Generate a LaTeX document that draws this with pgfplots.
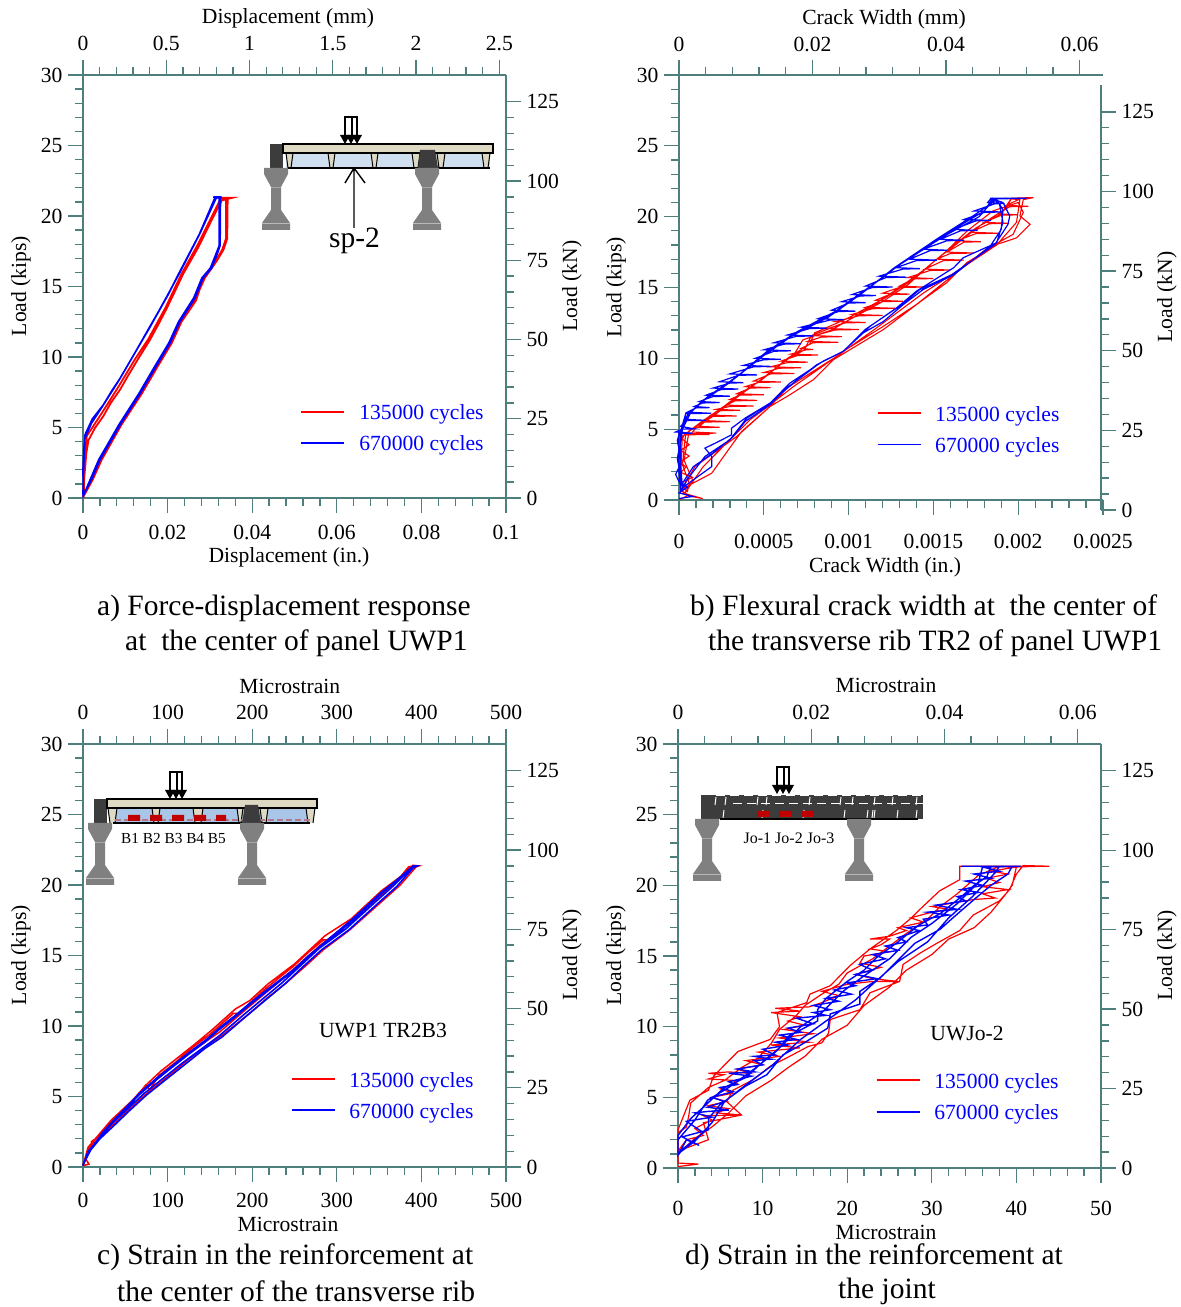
\documentclass[border=0pt]{standalone}
\usepackage{fontspec}
\usepackage{pgfplots}
\pgfplotsset{compat=1.18}
\setmainfont{Liberation Serif}
\definecolor{tk}{HTML}{4F7F7D}
\definecolor{sg}{HTML}{808080}
\definecolor{sd}{HTML}{3C3C3C}
\definecolor{bg}{HTML}{DDD9C3}
\definecolor{pa}{HTML}{D0DFF0}
\definecolor{pc}{HTML}{A9C6E8}
\definecolor{rb}{HTML}{C00000}
\newcommand{\fs}{\fontsize{21.6}{24}\selectfont}
\newcommand{\fc}{\fontsize{29.5}{33}\selectfont}
\pgfplotsset{
 base/.style={scale only axis, clip=false, tick align=outside,
  major tick length=15pt, minor tick length=8pt,
  tick style={color=tk,line width=1.3pt},
  axis line style={color=tk,line width=1.6pt},
  tick label style={font=\fs,/pgf/number format/assume math mode=true,text=black},
  label style={font=\fs},
  minor x tick num=4, minor y tick num=4, scaled ticks=false},
 mainax/.style={base, axis x line*=bottom, axis y line*=left,
  ymin=0,ymax=30,ytick={0,5,...,30},
  yticklabel style={xshift=-2pt},
  legend cell align=left,
  legend image code/.code={\draw[##1,line width=1.3pt] (0pt,4pt) -- (43pt,4pt); \path (57pt,4pt);},
  legend style={draw=none,fill=none,font=\fs,text=blue,inner sep=0pt,outer sep=0pt,anchor=north west,
    row sep=11pt,nodes={inner sep=0pt,text height=14pt,text depth=6pt}}},
 topax/.style={base, axis x line*=top, hide y axis, ymin=0,ymax=30},
 rightax/.style={base, axis y line*=right, hide x axis, xmin=0,xmax=1,ymin=0,ymax=133.45,
   ytick={0,25,...,125},yticklabel style={xshift=2pt}},
 red/.style={color=red,line width=#1},
 blu/.style={color=blue,line width=#1}
}
\newcommand{\supp}[2]{%
 \fill[sg] (#1-12,#2) -- (#1+12,#2) -- (#1+12,#2+6) -- (#1+5,#2+19) -- (#1+5,#2+42) -- (#1+14,#2+55) -- (#1+14,#2+62) -- (#1-14,#2+62) -- (#1-14,#2+55) -- (#1-5,#2+42) -- (#1-5,#2+19) -- (#1-12,#2+6) -- cycle;
 \draw[sg!55!white,line width=.6pt] (#1-14,#2+55) -- (#1+14,#2+55);
 \draw[sg!70!white,line width=.5pt] (#1-5,#2+19) -- (#1+5,#2+19);}
\newcommand{\loadarrow}[2]{%
 \draw[black,line width=2pt,fill=white] (#1-6,#2+18) -- (#1-6,#2) -- (#1+6,#2) -- (#1+6,#2+18);
 \draw[black,line width=1.2pt] (#1+1,#2) -- (#1+1,#2+18);
 \fill[black] (#1-11,#2+18) -- (#1-1,#2+18) -- (#1-6,#2+27) -- cycle;
 \fill[black] (#1-5,#2+18) -- (#1+5,#2+18) -- (#1,#2+27) -- cycle;
 \fill[black] (#1+1,#2+18) -- (#1+11,#2+18) -- (#1+6,#2+27) -- cycle;}
\newcommand{\rib}[3]{\fill[bg] (#1,#3) -- (#2,#3) -- (#2-2,#3+15) -- (#1+2,#3+15) -- cycle; \draw[black,line width=1pt] (#1,#3) -- (#1+2,#3+15) (#2,#3) -- (#2-2,#3+15);}
\begin{document}
\begin{tikzpicture}
\path[use as bounding box] (0,0) rectangle (1181pt,1307pt);
%%%%%%%%%%%%% a
\begin{axis}[mainax,at={(83pt,809pt)},width=423pt,height=423pt,xmin=0,xmax=0.1,
 xtick={0,0.02,0.04,0.06,0.08,0.1},xticklabels={0,0.02,0.04,0.06,0.08,0.1},
 xticklabel style={yshift=-9pt},
 xlabel={Displacement (in.)},xlabel style={at={(axis description cs:.487,-.1395)},anchor=center},
 ylabel={Load (kips)},ylabel style={at={(axis description cs:-.1465,.501)},anchor=center},
 legend style={at={(axis description cs:.515,.2177)}}]
\addplot[red=1.8pt] coordinates {(0,0.1)(.0004,1.8)(.0008,3.2)(.0013,4.1)(.0028,4.95)(.0048,5.8)(.0066,6.75)(.0088,7.7)(.0107,8.7)(.0127,9.7)(.0158,11.2)(.0178,12.3)(.0198,13.45)(.0218,14.7)(.0237,15.9)(.0255,16.85)(.0273,17.8)(.0304,19.7)(.0328,21.1)(.0354,21.3)(.0318,21.3)(.0342,21.3)(.0341,18.4)(.0332,17.6)(.0316,16.8)(.0288,15.6)(.0276,14.8)(.0267,14)(.0233,12.5)(.021,11)(.0178,9.4)(.0139,7.4)(.0091,5.2)(.0044,2.7)(.0023,1.3)(.0002,.15)(.0003,2)(.0006,3.5)(.0009,4.4)(.0044,6)(.0084,7.9)(.0122,9.8)(.0155,11.3)(.0195,13.5)(.0233,15.9)(.027,17.9)(.03,19.7)(.0325,21.2)(.0345,21.3)(.0338,21.3)(.0338,18.4)(.0329,17.6)(.0313,16.8)(.0285,15.6)(.0264,14)(.023,12.5)(.0207,11)(.0175,9.4)(.0136,7.4)(.0088,5.2)(.0041,2.7)(.002,1.3)(0,.1)};
\addlegendentry{135000 cycles}
\addplot[blu=1.7pt] coordinates {(0,0.2)(.0001,1.8)(.0003,3.2)(.0005,4.5)(.0022,5.6)(.0048,6.6)(.0068,7.6)(.0088,8.5)(.0119,10.1)(.0158,12.15)(.018,13.3)(.0202,14.5)(.0229,16)(.0253,17.4)(.0277,18.8)(.0316,21.35)(.0328,21.35)(.0308,21.35)(.0325,21.3)(.0324,17.9)(.0316,17.2)(.0304,16.3)(.0284,15.6)(.0265,14.2)(.0229,12.5)(.0206,11)(.0174,9.4)(.0135,7.4)(.0088,5.2)(.004,2.7)(.002,1.3)(.0001,.2)(0,2)(.0002,3.4)(.0004,4.2)(.002,5.3)(.0045,6.45)(.0085,8.35)(.0117,10)(.0156,12)(.02,14.35)(.0227,15.95)(.0275,18.7)(.0312,21.3)(.0322,21.3)(.0322,17.9)(.0313,17.2)(.0301,16.3)(.0281,15.6)(.0262,14.2)(.0226,12.5)(.0203,11)(.0171,9.4)(.0132,7.4)(.0085,5.2)(.0037,2.7)(.0017,1.3)(0,.1)};
\addlegendentry{670000 cycles}
\end{axis}
\begin{axis}[topax,at={(83pt,809pt)},width=423pt,height=423pt,xmin=0,xmax=2.54,
 xtick={0,0.5,1,1.5,2,2.5},xticklabels={0,0.5,1,1.5,2,2.5},xticklabel style={yshift=6pt},
 xlabel={Displacement (mm)},xlabel style={at={(axis description cs:.4846,1.135)},anchor=center}]
\end{axis}
\begin{axis}[rightax,at={(83pt,809pt)},width=423pt,height=423pt,
 ylabel={Load (kN)},ylabel style={at={(axis description cs:1.156,.501)},anchor=center}]
\end{axis}
%%%%%%%%%%%%% b
\begin{axis}[mainax,at={(679pt,807pt)},width=424pt,height=425pt,xmin=0,xmax=0.0025,
 xtick={0,0.0005,0.001,0.0015,0.002,0.0025},xticklabels={0,0.0005,0.001,0.0015,0.002,0.0025},
 xticklabel style={yshift=-16pt},
 xlabel={Crack Width (in.)},xlabel style={at={(axis description cs:.486,-.1577)},anchor=center},
 ylabel={Load (kips)},ylabel style={at={(axis description cs:-.148,.501)},anchor=center},
 legend style={at={(axis description cs:.4669,.2188)},row sep=11.5pt}]
\addplot[red=1.1pt] coordinates {
(0,.02)(.5e-4,.3)(1.4e-4,.1)(.2e-4,.5)(.6e-4,.3)(.1e-4,.7)(.5e-4,.95)(.1e-4,1.2)(.8e-4,1.6)(.1e-4,1.95)(.4e-4,2.3)(.1e-4,2.7)(.6e-4,3.1)(.1e-4,3.5)(.6e-4,3.9)(.2e-4,4.3)
(.3e-4,4.6)(1.8e-4,4.62)(.6e-4,4.68)(2.2e-4,4.72)(.8e-4,4.8)(1e-4,5.1)(2.4e-4,5.13)(1.2e-4,5.2)(1.5e-4,5.5)(3e-4,5.53)(1.6e-4,5.6)(2e-4,5.9)(3.4e-4,5.93)(1.9e-4,6)(2.4e-4,6.3)(3.6e-4,6.33)(2.2e-4,6.4)(3e-4,6.6)(4.4e-4,6.63)(2.8e-4,6.7)(3.3e-4,7)(4.6e-4,7.03)(3e-4,7.1)(3.6e-4,7.4)(5e-4,7.43)(3.4e-4,7.5)(4.2e-4,7.9)(5.4e-4,7.93)(3.9e-4,8)(4.7e-4,8.3)(6e-4,8.33)(4.4e-4,8.4)(5.4e-4,8.9)(6.8e-4,8.93)(5e-4,9)(5.9e-4,9.3)(7.2e-4,9.33)(5.4e-4,9.4)(6.4e-4,9.7)(7.6e-4,9.73)(6e-4,9.8)(7e-4,10.2)(8.2e-4,10.23)(6.6e-4,10.3)(7.5e-4,10.6)(7.9e-4,10.62)(7.2e-4,10.7)(7.9e-4,11.1)(9.4e-4,11.13)(7.6e-4,11.2)(8.4e-4,11.5)(9.6e-4,11.53)(8e-4,11.6)(9.2e-4,12)(10.6e-4,12.03)(8.8e-4,12.1)(9.8e-4,12.5)(11e-4,12.53)(9.2e-4,12.6)(10.6e-4,13)(12e-4,13.03)(10.2e-4,13.1)(11.4e-4,13.5)(12.8e-4,13.53)(11e-4,13.6)(12e-4,14)(13.2e-4,14.03)(11.6e-4,14.1)(12.4e-4,14.5)(13.6e-4,14.53)(12e-4,14.6)(13e-4,15)(14.4e-4,15.03)(13e-4,15.1)(13.8e-4,15.6)(15e-4,15.63)(13.5e-4,15.7)(14.8e-4,16.2)(16e-4,16.23)(14.5e-4,16.3)(15.6e-4,16.9)(16.8e-4,16.93)(15.2e-4,17)(16e-4,17.4)(17.4e-4,17.43)(15.8e-4,17.5)(16.8e-4,18.2)(17.8e-4,18.23)(16.4e-4,18.3)(17.5e-4,18.8)(18.8e-4,18.83)(17.2e-4,18.9)(18.3e-4,19.5)(19.4e-4,19.53)(18e-4,19.6)(19e-4,20.1)(20e-4,20.13)(18.8e-4,20.2)(19.5e-4,20.7)(20.6e-4,20.73)(19.3e-4,20.8)(20.2e-4,21.3)(20.9e-4,21.33)(19.6e-4,21.3)
(19e-4,20.2)(17.5e-4,19.2)(16e-4,17.8)(15e-4,16.8)(13.5e-4,15.2)(12e-4,14)(9.7e-4,12.5)(7.8e-4,11.6)(7.4e-4,10.6)(6.2e-4,9.8)(5e-4,8.6)(3.6e-4,7.5)(1.8e-4,5.8)(.4e-4,4.7)(.2e-4,2.5)(.6e-4,1.2)(.5e-4,.6)
(.26e-4,.83)(1.93e-4,1.89)(2.91e-4,3.54)(3.69e-4,4.83)(5.37e-4,6.6)(6.54e-4,7.43)(7.92e-4,8.49)(9.1e-4,9.9)(12.05e-4,12.03)(14.4e-4,14.15)(15.78e-4,15.33)(16.96e-4,16.75)(18.73e-4,18.04)(19.9e-4,18.5)(20.7e-4,19.46)(20.1e-4,20.05)(20.3e-4,21.2)(20.9e-4,21.35)(19.6e-4,21.3)
(19.3e-4,20.6)(17.9e-4,19.5)(16.4e-4,18.1)(15.3e-4,17.1)(13.7e-4,15.5)(12.2e-4,14.3)(9.9e-4,12.8)(8e-4,11.8)(7.7e-4,11)(6.4e-4,10)(5.2e-4,8.8)(3.8e-4,7.6)(2.1e-4,6)(.6e-4,4.9)(.3e-4,2.8)(.8e-4,1.4)(.3e-4,.4)
(1.43e-4,2.36)(3e-4,4.25)(4.19e-4,5.66)(5.37e-4,6.72)(6.74e-4,8)(8.31e-4,9.3)(9.69e-4,10.5)(12.05e-4,12.26)(14e-4,13.8)(16.2e-4,15.9)(18.1e-4,17.7)(19.7e-4,18.75)(20.3e-4,20.3)(20e-4,21)
(18.5e-4,20.4)(17e-4,19)(15.7e-4,17.5)(14.4e-4,16.2)(13e-4,15)(11e-4,13.4)(9e-4,12)(7.3e-4,11.3)(6.8e-4,10.3)(5.7e-4,9.3)(4.4e-4,8.1)(3e-4,6.9)(1.3e-4,5.5)(.2e-4,4.5)(.1e-4,2)(.2e-4,.8)
(.94e-4,2.36)(3.4e-4,4.48)(5.37e-4,6.6)(6.35e-4,7.9)(9.3e-4,10.14)(11.65e-4,12.15)(14.4e-4,14.6)(16.2e-4,16)(18.73e-4,18)(19.9e-4,19.6)(20.1e-4,21.2)(19.2e-4,21.3)};
\addlegendentry{135000 cycles}
\addplot[blu=1.2pt] coordinates {
(0,.1)(.8e-4,.25)(0,.5)(.5e-4,.9)(0,1.3)(-.2e-4,1.8)(0,2.3)(-.1e-4,2.9)(0,3.6)(-.1e-4,4.2)(0,4.6)
(0,4.7)(.8e-4,4.72)(-.2e-4,4.8)(.2e-4,5)(.9e-4,5.02)(.1e-4,5.2)(.4e-4,5.6)(1.6e-4,5.62)(.3e-4,5.7)(.4e-4,6.1)(1.9e-4,6.12)(.5e-4,6.2)(1e-4,6.5)(1.8e-4,6.52)(.9e-4,6.6)(1.4e-4,6.85)(2.4e-4,6.88)(1.2e-4,6.95)(2e-4,7.3)(3e-4,7.33)(1.6e-4,7.4)(2.5e-4,7.8)(3.5e-4,7.83)(2e-4,7.9)(3e-4,8.25)(3.8e-4,8.28)(2.4e-4,8.35)(3.5e-4,8.8)(4.6e-4,8.83)(3e-4,8.9)(4.4e-4,9.4)(5.4e-4,9.43)(3.8e-4,9.5)(5e-4,9.9)(6e-4,9.93)(4.5e-4,10)(5.6e-4,10.5)(6.6e-4,10.53)(5e-4,10.6)(6.2e-4,11)(7.2e-4,11.03)(5.6e-4,11.1)(6.9e-4,11.55)(7.9e-4,11.58)(6.4e-4,11.65)(7.7e-4,12.1)(8.7e-4,12.13)(7.2e-4,12.2)(8.9e-4,12.7)(9.7e-4,12.73)(8.2e-4,12.8)(9.4e-4,13.3)(10.4e-4,13.33)(9e-4,13.4)(10e-4,13.9)(11e-4,13.93)(9.6e-4,14)(10.7e-4,14.4)(11.6e-4,14.43)(10.2e-4,14.5)(11.4e-4,15)(12.6e-4,15.03)(11e-4,15.1)(12.2e-4,15.7)(13.4e-4,15.73)(11.8e-4,15.8)(13.2e-4,16.3)(14.2e-4,16.33)(12.8e-4,16.4)(14e-4,16.9)(15.2e-4,16.93)(13.6e-4,17)(14.8e-4,17.6)(15.8e-4,17.63)(14.4e-4,17.7)(15.8e-4,18.3)(16.8e-4,18.33)(15.4e-4,18.4)(16.6e-4,19)(17.6e-4,19.03)(16.2e-4,19.1)(17.5e-4,19.7)(18.4e-4,19.73)(16.8e-4,19.8)(18e-4,20.3)(19e-4,20.33)(17.4e-4,20.4)(18.6e-4,20.9)(19.2e-4,20.93)(18.2e-4,21)(18.4e-4,21.3)(20.5e-4,21.3)(18.6e-4,21.25)
(17.7e-4,20)(15.6e-4,18.6)(13e-4,16.6)(11e-4,14.8)(9e-4,13.1)(6.8e-4,11.7)(5e-4,10.2)(3.2e-4,8.5)(1.5e-4,7.1)(.5e-4,6)(.1e-4,4.8)(.1e-4,2.5)(.2e-4,.8)
(.16e-4,.83)(1.93e-4,2.36)(1.93e-4,3.07)(1.53e-4,3.66)(2.12e-4,4)(3.1e-4,4.6)(3.1e-4,5.07)(3.9e-4,5.78)(5.37e-4,6.84)(6.74e-4,8.25)(8.12e-4,9.55)(9.69e-4,10.5)(11.26e-4,12.26)(12.83e-4,13.56)(14e-4,14.74)(16.2e-4,16.4)(16.76e-4,17.1)(18.73e-4,18.16)(19.1e-4,19.6)(18.9e-4,20.87)(18.5e-4,21.3)
(18e-4,20.4)(15.9e-4,18.9)(13.2e-4,16.8)(11.3e-4,15.1)(9.2e-4,13.3)(7e-4,11.9)(5.2e-4,10.5)(3.4e-4,8.7)(1.7e-4,7.3)(.7e-4,6.2)(.2e-4,5)(0,2.8)(.1e-4,1)
(.85e-4,2.36)(2e-4,3.3)(3.2e-4,4.48)(3.9e-4,5.54)(5.37e-4,6.72)(6.35e-4,7.9)(8.31e-4,9.67)(9.69e-4,10.5)(10.87e-4,11.8)(12.05e-4,12.6)(13.23e-4,13.8)(14.4e-4,14.86)(16.2e-4,15.9)(18.34e-4,17.9)(19e-4,19.1)(19.1e-4,20.5)(18.73e-4,21.2)
(17.4e-4,20.1)(15.3e-4,18.5)(12.7e-4,16.4)(10.8e-4,14.6)(8.8e-4,12.9)(6.5e-4,11.5)(4.7e-4,10)(3e-4,8.3)(1.3e-4,6.9)(.3e-4,5.7)(0,4.5)(0,2)(.1e-4,.6)
(.45e-4,1.4)(1.53e-4,3.07)(3e-4,4.25)(4e-4,5.78)(5.37e-4,6.84)(6.54e-4,8.25)(8.5e-4,9.8)(9.69e-4,10.5)(10.97e-4,12.03)(13e-4,13.68)(14.2e-4,14.86)(16.08e-4,15.9)(18.63e-4,18.04)(19.4e-4,19.46)(19.5e-4,20.05)(19.1e-4,21)(18.34e-4,21.3)};
\addlegendentry{670000 cycles}
\end{axis}
\begin{axis}[topax,at={(679pt,807pt)},width=424pt,height=425pt,xmin=0,xmax=0.0635,
 xtick={0,0.02,0.04,0.06},xticklabels={0,0.02,0.04,0.06},xticklabel style={yshift=5pt},
 xlabel={Crack Width (mm)},xlabel style={at={(axis description cs:.4835,1.132)},anchor=center}]
\end{axis}
\begin{axis}[rightax,at={(679pt,797pt)},width=422pt,height=425pt,
 ylabel={Load (kN)},ylabel style={at={(axis description cs:1.156,.501)},anchor=center}]
\end{axis}
%%%%%%%%%%%%% c
\begin{axis}[mainax,at={(83pt,140pt)},width=423pt,height=423pt,xmin=0,xmax=500,
 xtick={0,100,...,500},
 xticklabel style={yshift=-8pt},
 xlabel={Microstrain},xlabel style={at={(axis description cs:.4846,-.135)},anchor=center},
 ylabel={Load (kips)},ylabel style={at={(axis description cs:-.1465,.501)},anchor=center},
 legend style={at={(axis description cs:.4917,.2222)}}]
\addplot[red=1.5pt] coordinates {(0,.1)(7,.2)(3,.6)(12,1.56)(10,1.8)(24,2.4)(36,3.2)(55,4.4)(74,5.8)(79,5.5)(90,6.5)(111,7.5)(130,8.5)(150,9.4)(178,10.9)(186,10.9)(195,11.5)(217,12.7)(248,14.2)(266,15.2)(284,16.1)(290,16.1)(315,17.4)(351,19.4)(372,20.4)(390,21.4)(397,21.35)(394,21.3)(375,20)(347,18.5)(315,16.8)(284,15.4)(262,14.2)(241,13.1)(218,12)(197,10.9)(166,9.4)(146,8.6)(122,7.5)(100,6.4)(75,5.2)(55,4.1)(36,3)(20,2.1)(8,1.2)(0,.15)(5,1.1)(14,1.9)(38,3.5)(58,4.7)(76,5.9)(92,6.8)(113,7.8)(132,8.7)(152,9.7)(180,11.2)(197,11.8)(219,13)(250,14.4)(286,16.4)(317,17.6)(353,19.6)(392,21.35)(385,21.3)(370,20.2)(343,18.8)(310,17.1)(280,15.7)(237,13.4)(193,11.2)(162,9.6)(119,7.8)(72,5.5)(33,3.3)(6,1.4)(0,.1)};
\addlegendentry{135000 cycles}
\addplot[blu=1.6pt] coordinates {(0,.1)(5,.8)(11,1.44)(22,2.3)(34,3.1)(50,4.1)(66,5.1)(85,6.1)(106,7.1)(125,8)(145,8.9)(160,9.7)(177,10.5)(195,11.4)(216,12.4)(247,13.85)(265,14.8)(283,15.7)(315,17.3)(351,19.3)(370,20.3)(390,21.35)(395,21.35)(390,21.2)(371,19.9)(345,18.5)(314,16.8)(282,15.4)(260,14.2)(239,13)(217,11.9)(195,10.8)(164,9.2)(144,8.4)(121,7.3)(98,6.2)(75,5.1)(55,4)(36,2.9)(20,2)(9,1.2)(0,.15)(7,1)(13,1.6)(24,2.5)(36,3.3)(52,4.3)(68,5.3)(87,6.3)(108,7.3)(127,8.2)(147,9.1)(162,9.9)(179,10.7)(197,11.6)(218,12.6)(249,14)(267,15)(285,15.9)(317,17.5)(353,19.5)(392,21.35)(388,21.2)(368,20)(342,18.6)(311,16.9)(279,15.5)(236,13.1)(192,10.9)(161,9.3)(118,7.4)(72,5.2)(33,3)(6,1.1)(0,.1)};
\addlegendentry{670000 cycles}
\end{axis}
\begin{axis}[topax,at={(83pt,140pt)},width=423pt,height=423pt,xmin=0,xmax=500,
 xtick={0,100,...,500},xticklabel style={yshift=6pt},
 xlabel={Microstrain},xlabel style={at={(axis description cs:.489,1.137)},anchor=center}]
\end{axis}
\begin{axis}[rightax,at={(83pt,140pt)},width=423pt,height=423pt,
 ylabel={Load (kN)},ylabel style={at={(axis description cs:1.156,.501)},anchor=center}]
\end{axis}
%%%%%%%%%%%%% d
\begin{axis}[mainax,at={(678pt,139pt)},width=423pt,height=424pt,xmin=0,xmax=50,
 xtick={0,10,...,50},
 xticklabel style={yshift=-15pt},
 xlabel={Microstrain},xlabel style={at={(axis description cs:.4917,-.151)},anchor=center},
 ylabel={Load (kips)},ylabel style={at={(axis description cs:-.1465,.502)},anchor=center},
 legend style={at={(axis description cs:.4681,.2217)},row sep=12pt}]
\addplot[red=1.2pt] coordinates {
(0,.1)(2.4,.28)(0,.35)(0,1.2)(3.6,2)(3,3.2)(7.5,3.75)(5.75,4.7)(6.5,5.5)(8.9,6.25)(10.9,7.2)(13.2,7.9)(15.4,8.6)(17,8.85)(17.8,9.55)(18,10.5)(21.5,11.2)(22.7,12.4)(26.2,13.2)(26.6,14.4)(28.6,15.2)(30.6,15.9)(33.3,16.8)(34.9,17.9)(38,18.9)(39.2,19.7)(40,20.8)(40.8,21.4)(43.9,21.35)(33.3,21.35)(33.3,20.4)(30.9,19.6)(28.6,18.3)(27.4,17.6)(25.8,16.8)(22.7,15.5)(20.3,14.3)(18,12.9)(15.6,12.3)(15.2,11.7)(11.7,11)(12,10)(10.9,9.1)(7.1,8.25)(4.2,6.5)(3.6,5.5)(1.4,4.8)(0,2.7)(0,1.2)
(1,2)(3,2.3)(2,2.8)(4,3.4)(3,3.7)(7.5,3.75)(4.5,3.9)(6,4.2)(3.5,4.4)(5.75,4.7)(4,5)(6.5,5.3)(5,5.6)(7,6)(6.5,6.2)(3.6,6.3)(5.4,6.6)(3.6,6.7)(6,6.8)(8.5,6.7)(7,7)(10,7.3)(8,7.6)(12,7.9)(9.5,8.2)(14.4,8.5)(11,8.7)(15.5,8.9)(12,9.2)(16,9.5)(12.5,9.8)(15,10.1)(13,10.4)(14.4,10.7)(11,11)(14.4,11.1)(11.5,11.3)(15.5,11.4)(17,11.7)(19,12.2)(17,12.5)(20,13)(23,13.2)(26,13.2)(23,13.4)(21,13.7)(24,14.2)(21.5,14.5)(22,15)(25,15.3)(22.7,15.5)(24,15.8)(25,16.2)(22.7,16.2)(25,16.4)(27,16.8)(26,17)(29,17.4)(27.5,17.7)(30,18.1)(32,18.3)(30,18.5)(33,18.8)(35,19)(37.5,19.1)(36,19.4)(38,19.6)(39,19.7)(36,19.9)(38,20.2)(36.5,20.5)(39,20.8)(37,21)(40,21.3)(42.9,21.35)(38,21.35)
(35.5,20.7)(33,19.4)(31,18.5)(29.5,17.6)(27,16.6)(25,15.7)(23,14.8)(20,13.8)(19,13)(17,12.3)(15,11.5)(14,10.8)(12,9.8)(11,8.8)(9.5,7.8)(7.5,7.1)(5.5,6.2)(3.6,5.7)(1.5,4.6)(1.3,3.8)(1,2.9)(0,2.5)(0,1)
(2,2.1)(4,2.9)(6,3.9)(8,5.1)(11,6.2)(13,7.1)(15,7.9)(17,9.1)(20,10.1)(22,11.5)(25,12.8)(27,14)(30,15.1)(32,16.2)(35,17)(37,18.1)(38.5,19.2)(39.5,20)(40,21.3)(35,21.35)};
\addlegendentry{135000 cycles}
\addplot[blu=1.4pt] coordinates {
(0,.9)(1,2)(2.5,1.6)(.5,2.2)(3.6,2.7)(3.6,3.5)(5,4.5)(8,5.8)(10.5,6.6)(12.4,8)(14.5,8.7)(17.7,9.9)(18,10.9)(21.5,11.6)(21.5,12.5)(24,13.5)(27,15.3)(28,15.9)(31,16.9)(32.5,17.7)(35,19)(37,20)(39,20.8)(39.5,21.35)(33.5,21.35)
(37,21.35)(36.5,20.6)(35,20)(33.5,19.2)(31,18)(28.5,17.2)(26,16)(23.5,14.9)(22,14)(20,13.2)(17.5,12)(16.5,11.2)(16.5,10.4)(13,9.3)(12,8.5)(10,7.5)(8,6.4)(5.5,5.7)(3,4.3)(1.5,3.5)(0,2.3)(0,.9)
(.5,1.3)(3,2.5)(1,3.3)(4,3.6)(2,3.9)(3.5,4)(6,4.1)(3.5,4.3)(5.5,4.7)(4,5)(6.5,5.4)(5,5.7)(7,5.9)(6,6.1)(8.7,6.5)(6,6.7)(9,6.8)(7,7)(10,7.3)(9,7.6)(11,7.7)(9,7.9)(11.5,8)(10,8.4)(13,8.7)(11.5,8.9)(14,9.1)(12,9.4)(14.5,9.6)(13,9.9)(16,10.2)(14,10.6)(17.5,10.8)(16,11)(18,11.2)(16,11.5)(19,11.8)(17.5,12)(20.5,12.3)(18.5,12.6)(21,12.9)(20,13.1)(23.5,13.4)(21,13.7)(23,14)(21.5,14.4)(24.5,14.8)(23,15.1)(26,15.4)(24.5,15.7)(27,16)(26,16.3)(28.5,16.8)(27,17)(29.5,17.2)(29,17.6)(32,17.9)(29.5,18.1)(33,18.3)(30.5,18.6)(34,18.9)(33,19.2)(35.5,19.5)(33.5,19.7)(36,20)(34,20.3)(37,20.5)(35,20.8)(38,21)(36,21.3)(40.5,21.35)(36,21.3)
(35.5,20.2)(33,18.7)(30,17.3)(27.5,16.3)(25,14.8)(22,13.6)(19.5,12.5)(17,11)(14.5,10)(11.5,8.2)(9,7)(6,5.7)(3.5,4.8)(2,3.4)(0,2)(0,1)
(2,1.9)(4,3.2)(5.5,4.7)(8.5,6.1)(11,7.2)(14.5,9.1)(17.5,10.4)(21,11.9)(23,13)(26,14.6)(29.5,16)(32,17.7)(34.8,19.2)(37.5,20.9)(38,21.35)(35,21.35)};
\addlegendentry{670000 cycles}
\end{axis}
\begin{axis}[topax,at={(678pt,139pt)},width=423pt,height=424pt,xmin=0,xmax=0.0635,
 xtick={0,0.02,0.04,0.06},xticklabels={0,0.02,0.04,0.06},xticklabel style={yshift=6pt},
 xlabel={Microstrain},xlabel style={at={(axis description cs:.4917,1.137)},anchor=center}]
\end{axis}
\begin{axis}[rightax,at={(678pt,139pt)},width=423pt,height=424pt,
 ylabel={Load (kN)},ylabel style={at={(axis description cs:1.156,.502)},anchor=center}]
\end{axis}
%%%%%%%%%%%%% insets, captions
\begin{scope}[x=1pt,y=-1pt,shift={(0pt,1307pt)}]
 % a inset
 \fill[sd] (270,144) rectangle (283,168);
 \fill[pa] (286,153) rectangle (490,168);
 \rib{286}{293}{153}\rib{328}{335}{153}\rib{371}{378}{153}\rib{412}{420}{153}\rib{437}{445}{153}\rib{482}{490}{153}
 \draw[black,line width=1.2pt,fill=bg] (283,144) rectangle (493,153);
 \draw[black,line width=1.2pt] (288,168) -- (490,168);
 \fill[sd] (420,150) -- (435,150) -- (438,168) -- (418,168) -- cycle;
 \supp{276}{168}\supp{427}{168}
 \loadarrow{351}{117}
 \draw[black,line width=1.4pt] (354,228) -- (354,168) (345,183) -- (354,168) -- (365,183);
 \node[font=\fc] at (354.5,241) {sp-2};
 % c inset
 \fill[sd] (94,799) rectangle (107,823);
 \fill[pc] (112,808) rectangle (312,823);
 \rib{108}{117}{808}\rib{152}{160}{808}\rib{193}{203}{808}\rib{237}{243}{808}\rib{260}{268}{808}\rib{306}{315}{808}
 \draw[black,line width=1.2pt,fill=bg] (107,799) rectangle (317,808);
 \draw[black,line width=1.2pt] (113,823) -- (310,823);
 \draw[rb!40!pc,line width=1.2pt,dash pattern=on 6pt off 3pt] (115,820) -- (310,820);
 \fill[sd] (245,805) -- (258,805) -- (261,823) -- (242,823) -- cycle;
 \fill[rb] (128,815) rectangle (140,821) (150,815) rectangle (162,821) (172,815) rectangle (184,821) (194,815) rectangle (206,821) (216,815) rectangle (226,821);
 \supp{100}{823}\supp{252}{823}
 \loadarrow{176}{772}
 \node[font=\fontsize{15.3}{18}\selectfont] at (173.5,839) {B1 B2 B3 B4 B5};
 % d inset
 \fill[sd] (701,795) rectangle (923,819);
 \draw[white,line width=1pt,dash pattern=on 9pt off 5pt] (716,796) -- (923,796) (733,803.5) -- (923,803.5);
 \foreach \q in {716,726,758,767,810,841,853,875,893,917}{\draw[white,line width=1pt] (\q,797) -- (\q-1,805);}
 \foreach \q in {724,763,804,845,868,873,875,898,917}{\draw[white,line width=1pt] (\q,810) -- (\q-1,818);}
 \draw[black,line width=1.3pt] (720,819) -- (918,819);
 \fill[rb] (757,811) rectangle (769,817) (779,811) rectangle (791,817) (801,811) rectangle (813,817);
 \supp{707}{819}\supp{859}{819}
 \loadarrow{783}{767}
 \node[font=\fontsize{16}{18}\selectfont] at (789,838) {Jo-1 Jo-2 Jo-3};
 % annotations
 \node[font=\fs] at (383,1031) {UWP1 TR2B3};
 \node[font=\fs] at (967,1034) {UWJo-2};
 % captions
 \node[font=\fc,anchor=west,inner sep=0pt] at (97,608) {a) Force-displacement response};
 \node[font=\fc,anchor=west,inner sep=0pt] at (125,643) {at\ \ the center of panel UWP1};
 \node[font=\fc,anchor=west,inner sep=0pt] at (690,608) {b) Flexural crack width at\ \ the center of};
 \node[font=\fc,anchor=west,inner sep=0pt] at (708,643) {the transverse rib TR2 of panel UWP1};
 \node[font=\fc,anchor=west,inner sep=0pt] at (97,1257) {c) Strain in the reinforcement at};
 \node[font=\fc,anchor=west,inner sep=0pt] at (117,1291) {the center of the transverse rib};
 \node[font=\fc,anchor=west,inner sep=0pt] at (685,1257) {d) Strain in the reinforcement at};
 \node[font=\fc,anchor=west,inner sep=0pt] at (838,1291) {the joint};
\end{scope}
\end{tikzpicture}
\end{document}
